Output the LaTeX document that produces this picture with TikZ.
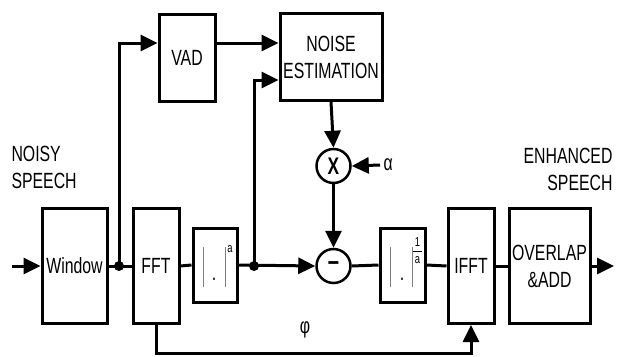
\documentclass[tikz,border=0pt]{standalone}
\usepackage{fontspec}
\setmainfont[FakeStretch=0.72]{Liberation Sans}
\usetikzlibrary{arrows.meta}

\begin{document}
\begin{tikzpicture}[x=1pt, y=-1pt, line width=3pt,
    font=\fontsize{22}{27}\selectfont,
    >={Triangle[length=17pt,width=16pt]},
    block/.style={draw, line width=3pt, inner sep=0pt, align=center},
    sumnode/.style={draw, circle, line width=2.5pt, inner sep=0pt, minimum size=34pt},
    bar/.style={gray, line width=1pt},
    small/.style={inner sep=0pt, font=\fontsize{13}{13}\selectfont},
    label/.style={inner sep=0pt, align=left}]

    \useasboundingbox (0,0) rectangle (617,356);

    % 1. Define the coordinates
    \coordinate (in) at (12,266);
    \coordinate (out) at (614,266);
    \coordinate (dot1) at (119,266);
    \coordinate (dot2) at (254,266);

    % 2. Place the blocks
    \node[block, minimum width=65pt, minimum height=115pt] (win) at (74.5,266) {Window};
    \node[block, minimum width=46pt, minimum height=115pt] (fft) at (156,266) {FFT};
    \node[block, minimum width=44pt, minimum height=74pt] (pa) at (215,265) {};
    \node[block, minimum width=56pt, minimum height=87pt] (vad) at (187,57.5) {VAD};
    \node[block, minimum width=102pt, minimum height=87pt] (noise) at (331,57) {NOISE\\ESTIMATION};
    \node[sumnode] (mul) at (333.5,166) {\fontsize{24}{24}\selectfont\bfseries X};
    \node[sumnode] (sub) at (333.5,266) {\fontsize{28}{28}\selectfont\bfseries –};
    \node[block, minimum width=45pt, minimum height=74pt] (pinv) at (402.5,265) {};
    \node[block, minimum width=46pt, minimum height=115pt] (ifft) at (471,266) {IFFT};
    \node[block, minimum width=81pt, minimum height=115pt] (ola) at (549.5,266) {OVERLAP\\\&ADD};

    % 3. The |.| symbols inside the power boxes
    \draw[bar] ([shift={(-12,-18)}]pa.center) -- ++(0,40);
    \draw[bar] ([shift={(10,-18)}]pa.center) -- ++(0,40);
    \node[inner sep=0pt] (padot) at ([shift={(-1,14)}]pa.center) {.};
    \node[small] (pexp) at (230,249) {a};
    \draw[bar] ([shift={(-12.5,-18)}]pinv.center) -- ++(0,40);
    \draw[bar] ([shift={(9.5,-18)}]pinv.center) -- ++(0,40);
    \node[inner sep=0pt] (pinvdot) at ([shift={(-0.5,14)}]pinv.center) {.};
    \node[small] (pnum) at (417.5,242) {1};
    \node[small] (pden) at (417.5,260) {a};
    \draw[line width=0.6pt] (413,251.5) -- (422,251.5);

    % 4. Side labels
    \node[label, anchor=north west] (noisy) at (10,145) {NOISY\\SPEECH};
    \node[label, align=right, anchor=north east] (enh) at (614,147) {ENHANCED\\SPEECH};
    \node[inner sep=2pt, anchor=west] (alpha) at (380,165) {α};
    \node[inner sep=0pt] (phi) at (305,330) {φ};

    % 5. Main signal path
    \draw[->] (in) -- (win.west);
    \draw (win.east) -- (fft.west);
    \draw (fft.east) -- (pa.west);
    \draw[->] (pa.east) -- (sub.west);
    \draw (sub.east) -- (pinv.west);
    \draw (pinv.east) -- (ifft.west);
    \draw (ifft.east) -- (ola.west);
    \draw[->] (ola.east) -- (out);
    \fill (dot1) circle (5pt);
    \fill (dot2) circle (5pt);

    % 6. Noise estimation branch
    \draw[->] (dot1) |- (vad.west |- 0,43);
    \draw[->] (vad.east |- 0,43) -- (noise.west |- 0,43);
    \draw[->] (dot2) |- (noise.west |- 0,80);
    \draw[->] (noise.south) -- (mul.north);
    \draw[->] (alpha.west) -- (mul.east);
    \draw[->] (mul.south) -- (sub.north);

    % 7. Phase path
    \draw[->] (fft.south) -- (fft.south |- 0,353) -| (ifft.south);

\end{tikzpicture}
\end{document}
